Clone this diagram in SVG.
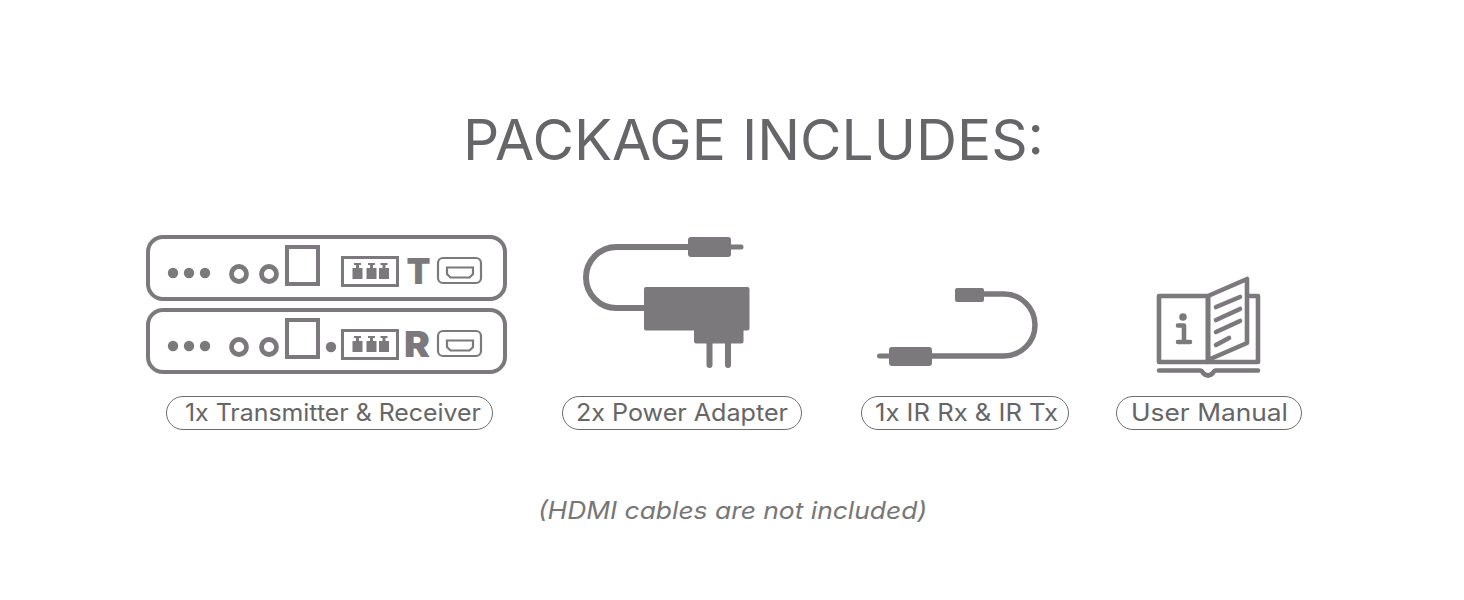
<svg xmlns="http://www.w3.org/2000/svg" width="1464" height="600" viewBox="0 0 1464 600">
<style>
text{font-family:Inter,"Open Sans","Liberation Sans",sans-serif;fill:#666567}
.title{font-size:56px}
.lab{font-size:24px}
.foot{font-size:24px;font-style:italic;fill:#777678}
.pill{fill:#fff;stroke:#6e6d6f;stroke-width:1}
.box{fill:none;stroke:#7b797b;stroke-width:4}
.ring{fill:none;stroke:#7b797b;stroke-width:4.800}
.thin{fill:none;stroke:#7b797b;stroke-width:2.200}
.cab{fill:none;stroke:#7b797b;stroke-width:6;stroke-linecap:round;stroke-linejoin:round}
.ir{fill:none;stroke:#7b797b;stroke-width:5.500;stroke-linecap:round;stroke-linejoin:round}
.tip{fill:none;stroke:#7b797b;stroke-width:5;stroke-linecap:round}
.bk{fill:none;stroke:#7b797b;stroke-width:4.600;stroke-linecap:round;stroke-linejoin:round}
.f{fill:#7b797b}
.letter{font-size:36px;font-weight:900;fill:#7b797b}
</style>
<defs>
<g id="unit">
<rect class="box" x="148" y="237" width="357" height="62" rx="15"/>
<circle class="f" cx="173" cy="273" r="5.200"/><circle class="f" cx="189" cy="273" r="5.200"/><circle class="f" cx="205" cy="273" r="5.200"/>
<circle class="ring" cx="239" cy="274" r="7.500"/><circle class="ring" cx="269" cy="274" r="7.500"/>
<rect class="box" x="287" y="247" width="31" height="37"/>
<rect fill="none" stroke="#7b797b" stroke-width="3" x="342.500" y="257.500" width="55" height="28"/>
<path class="f" d="M352.500 268h3.500v-3h-2v-2h7v2h-2v3h3.500v11h-10zM366.500 268h3.500v-3h-2v-2h7v2h-2v3h3.500v11h-10zM379 268h3.500v-3h-2v-2h7v2h-2v3h3.500v11h-10z"/>
<rect class="thin" x="438" y="258" width="43" height="25" rx="5"/>
<path class="thin" d="M447 267.500H473V274L469.500 277.500H450.500L447 274Z"/>
</g>
</defs>
<text class="title" x="463" y="160" textLength="581" lengthAdjust="spacingAndGlyphs">PACKAGE INCLUDES:</text>
<g id="node-units">
<use href="#unit"/>
<use href="#unit" y="73"/>
<circle class="f" cx="331" cy="347" r="5.200"/>
<text class="letter" x="406.500" y="284" textLength="24" lengthAdjust="spacingAndGlyphs">T</text>
<text class="letter" x="404" y="357" textLength="26" lengthAdjust="spacingAndGlyphs">R</text>
</g>
<g id="node-adapter">
<path class="cab" d="M688 247H616.500A30.500 30.500 0 0 0 616.500 308H646"/>
<rect class="f" x="688" y="237" width="43" height="20" rx="3"/>
<path class="tip" d="M731 247H741"/>
<rect class="f" x="644" y="287" width="105.500" height="43.500" rx="2"/>
<rect class="f" x="694" y="325" width="49.500" height="18.500" rx="2"/>
<path class="cab" d="M709.500 343V365M728 343V365"/>
</g>
<g id="node-ir">
<path class="ir" d="M984 294H1004A31 31 0 0 1 1004 356H932"/>
<rect class="f" x="955" y="288" width="29" height="14" rx="2"/>
<rect class="f" x="889" y="347" width="43" height="19" rx="3"/>
<path class="tip" d="M889 356H879.500"/>
</g>
<g id="node-manual">
<path class="bk" d="M1207 296H1159V362H1258V296H1248"/>
<path class="bk" style="fill:#fff" d="M1208 296L1247 279V343L1208 360Z"/>
<path class="bk" d="M1208 296V362M1216 307L1240 297M1216 320L1240 309M1216 332L1240 321M1216 345L1229 338"/>
<circle class="f" cx="1183" cy="317" r="3.800"/>
<path class="bk" d="M1178 325.500H1184V342M1178 342H1190"/>
<path class="bk" d="M1159 370.500H1200Q1202 370.500 1203 373Q1208 378 1213 373Q1214 370.500 1216 370.500H1258"/>
</g>
<g id="node-label-1"><rect class="pill" x="166.500" y="396.500" width="326" height="33" rx="16.500"/><text class="lab" x="185" y="421" textLength="296" lengthAdjust="spacingAndGlyphs">1x Transmitter &amp; Receiver</text></g>
<g id="node-label-2"><rect class="pill" x="562.500" y="396.500" width="239" height="33" rx="16.500"/><text class="lab" x="576" y="421" textLength="212" lengthAdjust="spacingAndGlyphs">2x Power Adapter</text></g>
<g id="node-label-3"><rect class="pill" x="861.500" y="396.500" width="207" height="33" rx="16.500"/><text class="lab" x="875" y="421" textLength="183" lengthAdjust="spacingAndGlyphs">1x IR Rx &amp; IR Tx</text></g>
<g id="node-label-4"><rect class="pill" x="1116.500" y="396.500" width="185" height="33" rx="16.500"/><text class="lab" x="1131" y="421" textLength="157" lengthAdjust="spacingAndGlyphs">User Manual</text></g>
<text class="foot" x="538" y="519" textLength="389" lengthAdjust="spacingAndGlyphs">(HDMI cables are not included)</text>
<g id="connectors"></g>
</svg>
